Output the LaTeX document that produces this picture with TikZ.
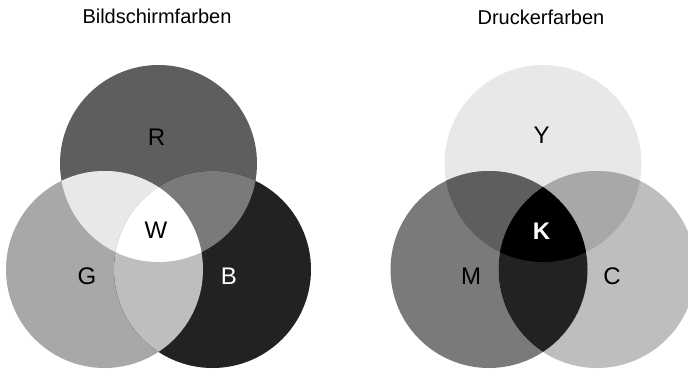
\documentclass[tikz,border=0pt]{standalone}
\usepackage{fontspec}
\setmainfont{Liberation Sans}
\definecolor{gA}{HTML}{5E5E5E}
\definecolor{gB}{HTML}{E8E8E8}
\definecolor{gC}{HTML}{7A7A7A}
\definecolor{gD}{HTML}{A8A8A8}
\definecolor{gE}{HTML}{BEBEBE}
\definecolor{gF}{HTML}{222222}
\begin{document}
\begin{tikzpicture}[x=1pt,y=-1pt,
  title/.style={font=\fontsize{20}{24}\selectfont, inner sep=0pt},
  lab/.style={font=\fontsize{24}{28}\selectfont, inner sep=0pt}]
\useasboundingbox (0,0) rectangle (688,370);
\clip (0,0) rectangle (688,370);
\def\rr{98.5}
% ---------- left: Bildschirmfarben ----------
\coordinate (cR) at (158.5,163.5);
\coordinate (cG) at (104.5,269.5);
\coordinate (cB) at (212.5,269.5);
\fill[gA] (cR) circle (\rr);
\fill[gD] (cG) circle (\rr);
\fill[gF] (cB) circle (\rr);
\begin{scope}\clip (cR) circle (\rr); \fill[gB] (cG) circle (\rr); \end{scope}
\begin{scope}\clip (cR) circle (\rr); \fill[gC] (cB) circle (\rr); \end{scope}
\begin{scope}\clip (cG) circle (\rr); \fill[gE] (cB) circle (\rr); \end{scope}
\begin{scope}\clip (cR) circle (\rr); \clip (cG) circle (\rr); \fill[white] (cB) circle (\rr); \end{scope}
\node[title] (t1) at (157,16.5) {Bildschirmfarben};
\node[lab] (lR) at (156.5,137) {R};
\node[lab] (lW) at (156,230) {W};
\node[lab] (lG) at (87,276) {G};
\node[lab, white] (lB) at (229,276) {B};
% ---------- right: Druckerfarben ----------
\coordinate (cY) at (543,163.5);
\coordinate (cM) at (489,269.5);
\coordinate (cC) at (597,269.5);
\fill[gB] (cY) circle (\rr);
\fill[gC] (cM) circle (\rr);
\fill[gE] (cC) circle (\rr);
\begin{scope}\clip (cY) circle (\rr); \fill[gA] (cM) circle (\rr); \end{scope}
\begin{scope}\clip (cY) circle (\rr); \fill[gD] (cC) circle (\rr); \end{scope}
\begin{scope}\clip (cM) circle (\rr); \fill[gF] (cC) circle (\rr); \end{scope}
\begin{scope}\clip (cY) circle (\rr); \clip (cM) circle (\rr); \fill[black] (cC) circle (\rr); \end{scope}
\node[title] (t2) at (541,17) {Druckerfarben};
\node[lab] (lY) at (541.5,135) {Y};
\node[lab, white, font=\fontsize{24}{28}\selectfont\bfseries] (lK) at (541.5,231) {K};
\node[lab] (lM) at (471,276) {M};
\node[lab] (lC) at (612,276) {C};
\end{tikzpicture}
\end{document}
